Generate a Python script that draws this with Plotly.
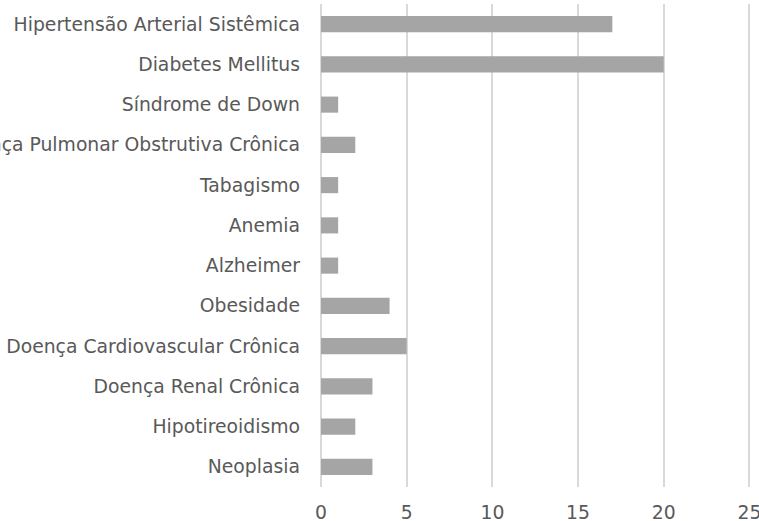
import plotly.graph_objects as go

categories = [
    "Hipertensão Arterial Sistêmica",
    "Diabetes Mellitus",
    "Síndrome de Down",
    "Doença Pulmonar Obstrutiva Crônica",
    "Tabagismo",
    "Anemia",
    "Alzheimer",
    "Obesidade",
    "Doença Cardiovascular Crônica",
    "Doença Renal Crônica",
    "Hipotireoidismo",
    "Neoplasia",
]
values = [17, 20, 1, 2, 1, 1, 1, 4, 5, 3, 2, 3]
x_ticks = [0, 5, 10, 15, 20, 25]

fig = go.Figure(go.Bar(
    x=values,
    y=categories,
    orientation="h",
    marker=dict(color="#a5a5a5", line=dict(width=0)),
    width=0.4,
    hoverinfo="skip",
))

fig.update_layout(
    width=759,
    height=521,
    margin=dict(l=320, r=7, t=4, b=34),
    paper_bgcolor="white",
    plot_bgcolor="white",
    font=dict(family="DejaVu Sans", size=18.8, color="#595959"),
    showlegend=False,
    xaxis=dict(
        range=[-0.06, 25.15],
        tickvals=x_ticks,
        showgrid=True,
        gridcolor="#d9d9d9",
        gridwidth=1.5,
        zeroline=False,
        showline=False,
        automargin=False,
        ticklabelstandoff=12,
        ticklabeloverflow="allow",
    ),
    yaxis=dict(
        categoryorder="array",
        categoryarray=categories[::-1],
        showgrid=False,
        zeroline=False,
        showline=False,
        automargin=False,
        ticklabelstandoff=19,
        ticklabeloverflow="allow",
    ),
)

fig.write_html(
    "out.html",
    config={"displayModeBar": False},
    post_script="document.body.style.margin='0';document.body.style.overflow='hidden';",
)
